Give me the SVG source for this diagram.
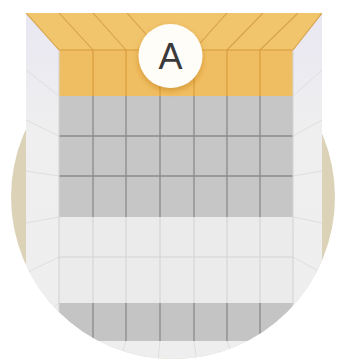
<svg xmlns="http://www.w3.org/2000/svg" width="337" height="361" viewBox="0 0 337 361">
  <defs>
    <clipPath id="xr"><rect x="26" y="0" width="296" height="361"/></clipPath>
    <clipPath id="shape"><rect x="26" y="13" width="296" height="190"/><circle cx="173" cy="197" r="162"/></clipPath>
    <linearGradient id="lw" x1="0" y1="0" x2="0" y2="1">
      <stop offset="0" stop-color="#e9e7f2"/>
      <stop offset="0.35" stop-color="#efefef"/>
      <stop offset="1" stop-color="#eeeeee"/>
    </linearGradient>
    <filter id="sh" x="-50%" y="-50%" width="200%" height="200%">
      <feDropShadow dx="0" dy="3" stdDeviation="3" flood-color="#b86f10" flood-opacity="0.45"/>
    </filter>
    <style>
      .cl { stroke: #d6a24a; stroke-width: 1.1; fill: none; }
      .ol { stroke: #d69a3a; stroke-width: 1.1; }
      .gl { stroke: #8a8a8a; stroke-width: 1.3; }
      .ll { stroke: #d4d4d4; stroke-width: 1.1; }
      .wl { stroke: #dedede; stroke-width: 1; fill: none; }
    </style>
  </defs>
  <rect width="337" height="361" fill="#ffffff"/>
  <circle cx="173" cy="197" r="162" fill="#dcd2b7"/>
  <g clip-path="url(#xr)">
    <g clip-path="url(#shape)">
      <rect x="26" y="13" width="296" height="348" fill="url(#lw)"/>
      <g class="wl">
        <line x1="26" y1="70" x2="59" y2="96"/>
        <line x1="26" y1="120" x2="59" y2="136"/>
        <line x1="26" y1="171" x2="59" y2="176"/>
        <line x1="26" y1="223" x2="59" y2="217"/>
        <line x1="26" y1="273" x2="59" y2="257"/>
        <line x1="26" y1="332" x2="59" y2="303"/>
        <line x1="26" y1="380" x2="59" y2="341"/>
        <line x1="322" y1="70" x2="293" y2="96"/>
        <line x1="322" y1="120" x2="293" y2="136"/>
        <line x1="322" y1="171" x2="293" y2="176"/>
        <line x1="322" y1="223" x2="293" y2="217"/>
        <line x1="322" y1="273" x2="293" y2="257"/>
        <line x1="322" y1="332" x2="293" y2="303"/>
        <line x1="322" y1="380" x2="293" y2="341"/>
        <line x1="93" y1="341" x2="71" y2="380"/>
        <line x1="126" y1="341" x2="113" y2="380"/>
        <line x1="160" y1="341" x2="156" y2="380"/>
        <line x1="194" y1="341" x2="199" y2="380"/>
        <line x1="227" y1="341" x2="240" y2="380"/>
        <line x1="260" y1="341" x2="282" y2="380"/>
      </g>
      <polygon points="26,13 322,13 293,50 59,50" fill="#f1c56c"/>
      <g class="cl">
        <line x1="26" y1="13" x2="59" y2="50"/>
        <line x1="59" y1="13" x2="93" y2="50"/>
        <line x1="93" y1="13" x2="126" y2="50"/>
        <line x1="127" y1="13" x2="160" y2="50"/>
        <line x1="227" y1="13" x2="194" y2="50"/>
        <line x1="263" y1="13" x2="227" y2="50"/>
        <line x1="298" y1="13" x2="260" y2="50"/>
        <line x1="322" y1="13" x2="293" y2="50"/>
      </g>
      <rect x="59" y="50" width="234" height="46" fill="#f0be62"/>
      <rect x="59" y="96" width="234" height="121" fill="#c6c6c6"/>
      <rect x="59" y="217" width="234" height="86" fill="#ebebeb"/>
      <rect x="59" y="303" width="234" height="38" fill="#c4c4c4"/>
      <g class="ol">
        <line x1="59" y1="50" x2="293" y2="50"/>
        <line x1="93" y1="50" x2="93" y2="96"/>
        <line x1="126" y1="50" x2="126" y2="96"/>
        <line x1="160" y1="50" x2="160" y2="96"/>
        <line x1="194" y1="50" x2="194" y2="96"/>
        <line x1="227" y1="50" x2="227" y2="96"/>
        <line x1="260" y1="50" x2="260" y2="96"/>
      </g>
      <g class="gl">
        <line x1="59" y1="136" x2="293" y2="136"/>
        <line x1="59" y1="176" x2="293" y2="176"/>
        <line x1="93" y1="96" x2="93" y2="217"/>
        <line x1="126" y1="96" x2="126" y2="217"/>
        <line x1="160" y1="96" x2="160" y2="217"/>
        <line x1="194" y1="96" x2="194" y2="217"/>
        <line x1="227" y1="96" x2="227" y2="217"/>
        <line x1="260" y1="96" x2="260" y2="217"/>
        <line x1="93" y1="303" x2="93" y2="341"/>
        <line x1="126" y1="303" x2="126" y2="341"/>
        <line x1="160" y1="303" x2="160" y2="341"/>
        <line x1="194" y1="303" x2="194" y2="341"/>
        <line x1="227" y1="303" x2="227" y2="341"/>
        <line x1="260" y1="303" x2="260" y2="341"/>
      </g>
      <g class="ll">
        <line x1="59" y1="257" x2="293" y2="257"/>
        <line x1="93" y1="217" x2="93" y2="303"/>
        <line x1="126" y1="217" x2="126" y2="303"/>
        <line x1="160" y1="217" x2="160" y2="303"/>
        <line x1="194" y1="217" x2="194" y2="303"/>
        <line x1="227" y1="217" x2="227" y2="303"/>
        <line x1="260" y1="217" x2="260" y2="303"/>
        <line x1="59" y1="50" x2="59" y2="341"/>
        <line x1="293" y1="50" x2="293" y2="341"/>
      </g>
    </g>
  </g>
  <g id="marker-a">
    <circle cx="170.5" cy="56" r="32" fill="#fffdf7" filter="url(#sh)"/>
    <text x="170.5" y="68.5" text-anchor="middle" font-family="'Liberation Sans', Arial, sans-serif" font-size="36" fill="#3a3a3a">A</text>
  </g>
</svg>
